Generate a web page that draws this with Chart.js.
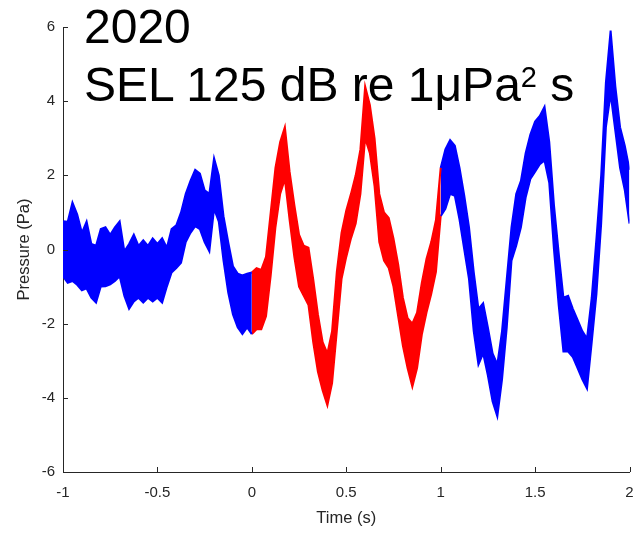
<!DOCTYPE html>
<html>
<head>
<meta charset="utf-8">
<script src="https://cdn.jsdelivr.net/npm/chart.js@4.4.0/dist/chart.umd.min.js"></script>
<style>
  html, body { margin: 0; padding: 0; background: #fff; }
  #wrap { position: relative; width: 636px; height: 533px; }
  #plot { position: absolute; left: 0; top: 0; }
  .caption {
    position: absolute;
    left: 84px;
    font-family: "Liberation Sans", Arial, sans-serif;
    font-size: 48px;
    line-height: 48px;
    color: #000;
    white-space: nowrap;
  }
  .caption sup { font-size: 29px; line-height: 0; vertical-align: baseline; position: relative; top: -14px; }
</style>
</head>
<body>
<div id="wrap">
  <canvas id="plot" width="636" height="533"></canvas>
  <div class="caption" style="top:3px">2020</div>
  <div class="caption" style="top:61px">SEL 125 dB re 1μPa<sup>2</sup> s</div>
</div>
<script>
// time base of the envelope samples (s)
const startTime = -1;
const stepTime = 0.025;

// top and bottom edge of the noisy pressure trace (Pa), one pair per step
const upper = [
  0.76, 0.75, 1.27, 0.95, 0.45, 0.75, 0.15, 0.1, 0.55, 0.6,
  0.4, 0.6, 0.76, -0.05, 0.15, 0.4, 0.1, 0.25, 0.1, 0.3,
  0.15, 0.3, 0.05, 0.55, 0.65, 1.0, 1.5, 1.85, 2.15, 2.05,
  1.6, 1.5, 2.46, 2.0, 0.9, 0.2, -0.45, -0.65, -0.7, -0.65,
  -0.62, -0.5, -0.55, -0.2, 1.0, 2.2, 2.9, 3.3, 2.1, 1.2,
  0.4, 0.1, 0.05, -0.8, -1.75, -2.5, -2.8, -2.2, -0.6, 0.45,
  1.05, 1.5, 2.0, 2.7, 4.4, 3.9, 3.0, 1.5, 1.0, 0.85,
  0.3, -0.4, -1.3, -1.85, -2.0, -1.7, -0.9, -0.25, 0.2, 0.8,
  2.2, 2.7, 2.95, 2.8, 2.2, 1.45, 0.6, -0.6, -1.6, -1.45,
  -2.1, -2.8, -3.1, -2.2, -0.8, 0.6, 1.5, 1.85, 2.6, 3.1,
  3.45, 3.6, 3.85, 2.9, 1.2, -0.1, -1.3, -1.25, -1.6, -1.9,
  -2.2, -2.4, -1.3, 0.3, 2.0, 4.5, 5.9, 4.4, 3.3, 2.8,
  2.15
];
const lower = [
  -0.72, -0.9, -0.85, -0.95, -1.1, -1.05, -1.3, -1.43, -1.0, -0.99,
  -0.94, -0.85, -0.72, -1.25, -1.6, -1.4, -1.3, -1.43, -1.3, -1.4,
  -1.3, -1.43, -1.0, -0.62, -0.5, -0.36, 0.2, 0.45, 0.63, 0.55,
  0.2, -0.05, 1.1, 0.75, -0.3, -1.16, -1.75, -2.1, -2.28, -2.1,
  -2.28, -2.15, -2.15, -1.8, -0.7, 0.6, 1.5, 1.9, 0.8, -0.2,
  -1.0, -1.25, -1.5, -2.5, -3.3, -3.8, -4.2, -3.6, -2.2, -0.8,
  -0.2, 0.3, 0.7, 1.5, 3.0, 2.6, 1.7, 0.2, -0.3, -0.5,
  -1.0, -1.8, -2.6, -3.2, -3.7, -3.2, -2.3, -1.7, -1.2, -0.6,
  0.9, 1.1, 1.5, 1.45, 0.8, 0.0, -0.8, -2.2, -3.1, -2.8,
  -3.4, -4.1, -4.5, -3.5, -2.1, -0.3, 0.1, 0.6, 1.4, 1.9,
  2.1, 2.3, 2.4, 1.8, 0.0, -1.5, -2.75, -2.75, -2.9, -3.2,
  -3.5, -3.75, -2.5, -1.2, 0.7, 3.3, 4.2, 3.2, 2.2, 1.6,
  0.7
];

// sample indices where the red window starts (t = 0) and ends (t = 1)
const redFrom = 40;
const redTo = 80;

const xTicks = [-1, -0.5, 0, 0.5, 1, 1.5, 2];
const yTicks = [-6, -4, -2, 0, 2, 4, 6];

const axisColor = '#262626';
const fontFamily = '"Liberation Sans", Arial, sans-serif';

function edgePoints(values, from, to) {
  const pts = [];
  for (let i = from; i <= to; i++) {
    pts.push({ x: startTime + i * stepTime, y: values[i] });
  }
  return pts;
}

// each trace piece is its top edge plus its bottom edge filled up to it
function bandSets(from, to, color) {
  const base = { borderColor: color, borderWidth: 2, pointRadius: 0, tension: 0 };
  return [
    Object.assign({}, base, { data: edgePoints(upper, from, to), fill: false }),
    Object.assign({}, base, {
      data: edgePoints(lower, from, to),
      fill: '-1',
      backgroundColor: color
    })
  ];
}

// MATLAB style ticks pointing into the axes
const inwardTicks = {
  id: 'inwardTicks',
  afterDatasetsDraw(chart) {
    const { ctx, chartArea, scales: { x, y } } = chart;
    ctx.save();
    ctx.strokeStyle = axisColor;
    ctx.lineWidth = 1;
    ctx.beginPath();
    xTicks.forEach((v) => {
      const px = Math.round(x.getPixelForValue(v)) + 0.5;
      ctx.moveTo(px, chartArea.bottom);
      ctx.lineTo(px, chartArea.bottom - 5);
    });
    yTicks.forEach((v) => {
      const py = Math.round(y.getPixelForValue(v)) + 0.5;
      ctx.moveTo(chartArea.left, py);
      ctx.lineTo(chartArea.left + 5, py);
    });
    ctx.stroke();
    ctx.restore();
  }
};

new Chart(document.getElementById('plot'), {
  type: 'line',
  data: {
    datasets: [
      ...bandSets(0, redFrom, '#0000ff'),
      ...bandSets(redFrom, redTo, '#ff0000'),
      ...bandSets(redTo, upper.length - 1, '#0000ff')
    ]
  },
  options: {
    responsive: false,
    animation: false,
    layout: { padding: { top: 27, right: 6.5, left: 0, bottom: 0 } },
    plugins: {
      legend: { display: false },
      tooltip: { enabled: false }
    },
    scales: {
      x: {
        type: 'linear',
        min: -1,
        max: 2,
        afterBuildTicks: (s) => { s.ticks = xTicks.map((v) => ({ value: v })); },
        afterFit: (s) => {
          s.height = 61;
          s.paddingLeft = 0;
          s.paddingRight = 0;
        },
        grid: { display: false, drawTicks: false },
        border: { display: true, color: axisColor, width: 1 },
        ticks: {
          color: axisColor,
          padding: 12,
          maxRotation: 0,
          callback: (v) => String(v),
          font: { family: fontFamily, size: 15 }
        },
        title: {
          display: true,
          text: 'Time (s)',
          color: axisColor,
          padding: { top: 0, bottom: 5 },
          font: { family: fontFamily, size: 16.5 }
        }
      },
      y: {
        min: -6,
        max: 6,
        afterBuildTicks: (s) => { s.ticks = yTicks.map((v) => ({ value: v })); },
        afterFit: (s) => { s.width = 63; },
        grid: { display: false, drawTicks: false },
        border: { display: true, color: axisColor, width: 1 },
        ticks: {
          color: axisColor,
          padding: 8,
          callback: (v) => String(v),
          font: { family: fontFamily, size: 15 }
        },
        title: {
          display: true,
          text: 'Pressure (Pa)',
          color: axisColor,
          padding: { top: 15, bottom: 0 },
          font: { family: fontFamily, size: 16.5 }
        }
      }
    }
  },
  plugins: [inwardTicks]
});
</script>
</body>
</html>
